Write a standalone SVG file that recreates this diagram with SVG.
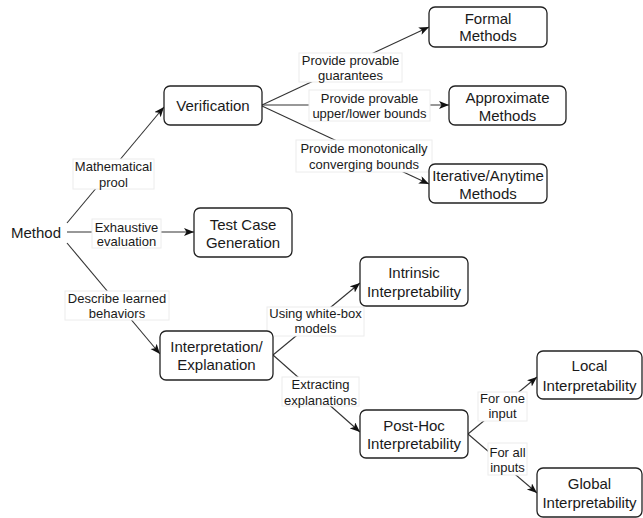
<svg xmlns="http://www.w3.org/2000/svg" width="643" height="518" viewBox="0 0 643 518">
<style>
text{font-family:"Liberation Sans",Arial,sans-serif;fill:#1a1a1a;text-anchor:middle;dominant-baseline:central}
.n rect{fill:#fff;stroke:#222;stroke-width:1.3}
.n text{font-size:15px}
.e line{stroke:#333;stroke-width:1.1;fill:none;marker-end:url(#arr)}
.l rect{fill:#fff;stroke:#ececec;stroke-width:1}
.l text{font-size:13px}
</style>
<defs>
<marker id="arr" markerUnits="userSpaceOnUse" markerWidth="11" markerHeight="9" refX="10" refY="4" orient="auto">
<path d="M0,0 L10,4 L0,8 L2.5,4 z" fill="#111"/>
</marker>
</defs>
<rect width="643" height="518" fill="#fff"/>
<g id="connectors" class="e">
<line x1="67" y1="223" x2="164" y2="107"/>
<line x1="67" y1="232" x2="194" y2="232"/>
<line x1="67" y1="243" x2="160" y2="354"/>
<line x1="262" y1="105" x2="429" y2="27"/>
<line x1="262" y1="105" x2="449" y2="105"/>
<line x1="262" y1="106" x2="429" y2="184"/>
<line x1="273" y1="355" x2="360" y2="283"/>
<line x1="273" y1="355" x2="360" y2="432"/>
<line x1="468" y1="434" x2="537" y2="377"/>
<line x1="468" y1="434" x2="537" y2="493"/>
</g>
<g id="labels" class="l">
<g id="lbl-proof"><rect x="73" y="159" width="81" height="30"/><text x="113.5" y="166">Mathematical</text><text x="113.5" y="182">prool</text></g>
<g id="lbl-exh"><rect x="92" y="219" width="69" height="29"/><text x="126.5" y="227">Exhaustive</text><text x="126.5" y="241">evaluation</text></g>
<g id="lbl-desc"><rect x="65" y="291" width="104" height="29"/><text x="117" y="298">Describe learned</text><text x="117" y="313">behaviors</text></g>
<g id="lbl-guar"><rect x="299" y="53" width="103" height="29"/><text x="350.5" y="60">Provide provable</text><text x="350.5" y="75">guarantees</text></g>
<g id="lbl-bounds"><rect x="309" y="90" width="121" height="31"/><text x="369.5" y="98">Provide provable</text><text x="369.5" y="113">upper/lower bounds</text></g>
<g id="lbl-mono"><rect x="296" y="140" width="136" height="32"/><text x="364" y="148">Provide monotonically</text><text x="364" y="164">converging bounds</text></g>
<g id="lbl-white"><rect x="267" y="307" width="97" height="29"/><text x="315.5" y="313">Using white-box</text><text x="315.5" y="328">models</text></g>
<g id="lbl-extr"><rect x="282" y="377" width="77" height="29"/><text x="320.5" y="384">Extracting</text><text x="320.5" y="400">explanations</text></g>
<g id="lbl-one"><rect x="478" y="392" width="49" height="29"/><text x="502.5" y="398">For one</text><text x="502.5" y="413">input</text></g>
<g id="lbl-all"><rect x="488" y="443" width="39" height="32"/><text x="507.5" y="452">For all</text><text x="507.5" y="467">inputs</text></g>
</g>
<g id="method"><text x="36" y="232" font-size="15">Method</text></g>
<g id="verification" class="n"><rect x="164" y="86" width="98" height="39" rx="6"/><text x="213" y="105.5">Verification</text></g>
<g id="testcase" class="n"><rect x="194" y="208" width="98" height="49" rx="6"/><text x="243" y="224">Test Case</text><text x="243" y="242">Generation</text></g>
<g id="interpretation" class="n"><rect x="160" y="331" width="113" height="49" rx="6"/><text x="216.5" y="346">Interpretation/</text><text x="216.5" y="364">Explanation</text></g>
<g id="formal" class="n"><rect x="429" y="7" width="118" height="40" rx="6"/><text x="488" y="18">Formal</text><text x="488" y="35">Methods</text></g>
<g id="approximate" class="n"><rect x="449" y="86" width="117" height="39" rx="6"/><text x="507.5" y="97">Approximate</text><text x="507.5" y="115">Methods</text></g>
<g id="iterative" class="n"><rect x="429" y="164" width="118" height="39" rx="6"/><text x="488" y="175">Iterative/Anytime</text><text x="488" y="193">Methods</text></g>
<g id="intrinsic" class="n"><rect x="360" y="257" width="108" height="49" rx="6"/><text x="414" y="272">Intrinsic</text><text x="414" y="291">Interpretability</text></g>
<g id="posthoc" class="n"><rect x="360" y="410" width="108" height="48" rx="6"/><text x="414" y="425">Post-Hoc</text><text x="414" y="443">Interpretability</text></g>
<g id="local" class="n"><rect x="537" y="351" width="105" height="48" rx="6"/><text x="589.5" y="365">Local</text><text x="589.5" y="385">Interpretability</text></g>
<g id="global" class="n"><rect x="537" y="468" width="105" height="49" rx="6"/><text x="589.5" y="483">Global</text><text x="589.5" y="502">Interpretability</text></g>
</svg>
